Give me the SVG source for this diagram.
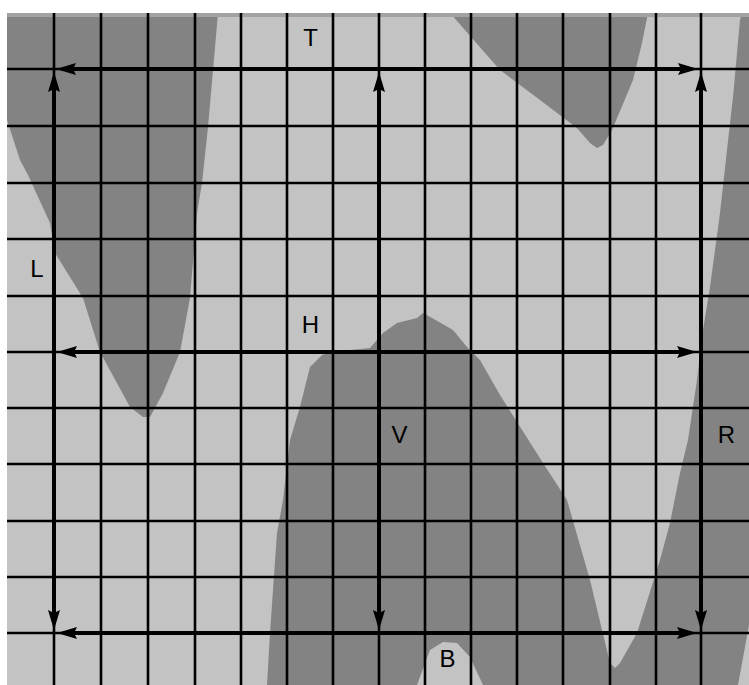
<svg xmlns="http://www.w3.org/2000/svg" width="749" height="685" viewBox="0 0 749 685">
<style>
.light{fill:#c3c3c3}
.dark{fill:#838383}
.grid line{stroke:#000;stroke-width:2.6}
.conn line{stroke:#000;stroke-width:4;marker-start:url(#ah);marker-end:url(#ah)}
.lbl{font-family:"Liberation Sans",Arial,sans-serif;font-size:24px;fill:#000;text-anchor:middle}
</style>
<defs>
<marker id="ah" viewBox="0 0 20 12" markerUnits="userSpaceOnUse" markerWidth="20" markerHeight="12" refX="8" refY="6" orient="auto-start-reverse">
<path d="M0,0 L20,6 L0,12 L3,6 Z" fill="#000"/>
</marker>
</defs>
<rect x="0" y="0" width="749" height="685" fill="#fff"/>
<g id="background">
<rect class="light" x="7" y="13" width="742" height="672"/>
<path class="dark" d="M7,13 L218,13 L208,127 L202,183 L197,213 L190,298 L180,352 L163,393 L150,417 L143,417 L130,407 L100,352 L83,298 L55,253 L50,223 L28,175 L20,160 L7,120 Z"/>
<path class="dark" d="M450,13 L648,13 L642,43 L633,80 L612,130 L603,145 L597,148 L590,143 L577,128 L540,100 L500,70 Z"/>
<path class="dark" d="M267,685 L270,633 L277,533 L283,500 L290,440 L300,407 L310,367 L322,355 L332,352 L370,348 L383,333 L397,323 L417,318 L423,313 L432,318 L453,330 L467,347 L480,360 L500,395 L543,463 L567,500 L590,580 L610,663 L615,668 L620,663 L637,633 L660,560 L670,523 L680,473 L688,440 L697,380 L703,330 L710,287 L720,213 L727,150 L733,97 L740,20 L742,13 L749,13 L749,685 Z"/>
<path class="light" d="M417,685 L430,650 L443,642 L457,643 L470,657 L483,685 Z"/>
<path class="light" d="M749,625 L749,685 L738,685 Z"/>
<rect x="7" y="13" width="742" height="4" fill="#a2a2a2"/>
</g>
<g class="grid" id="grid">
<line x1="54" y1="13" x2="54" y2="685"/>
<line x1="101" y1="13" x2="101" y2="685"/>
<line x1="148" y1="13" x2="148" y2="685"/>
<line x1="195" y1="13" x2="195" y2="685"/>
<line x1="241" y1="13" x2="241" y2="685"/>
<line x1="287" y1="13" x2="287" y2="685"/>
<line x1="333" y1="13" x2="333" y2="685"/>
<line x1="379" y1="13" x2="379" y2="685"/>
<line x1="425" y1="13" x2="425" y2="685"/>
<line x1="471" y1="13" x2="471" y2="685"/>
<line x1="517" y1="13" x2="517" y2="685"/>
<line x1="563" y1="13" x2="563" y2="685"/>
<line x1="610" y1="13" x2="610" y2="685"/>
<line x1="656" y1="13" x2="656" y2="685"/>
<line x1="701" y1="13" x2="701" y2="685"/>
<line x1="7" y1="69" x2="749" y2="69"/>
<line x1="7" y1="126" x2="749" y2="126"/>
<line x1="7" y1="183" x2="749" y2="183"/>
<line x1="7" y1="239" x2="749" y2="239"/>
<line x1="7" y1="296" x2="749" y2="296"/>
<line x1="7" y1="352" x2="749" y2="352"/>
<line x1="7" y1="408" x2="749" y2="408"/>
<line x1="7" y1="464" x2="749" y2="464"/>
<line x1="7" y1="521" x2="749" y2="521"/>
<line x1="7" y1="577" x2="749" y2="577"/>
<line x1="7" y1="633" x2="749" y2="633"/>
</g>
<g class="conn" id="connectors">
<line id="arrow-T" x1="68" y1="69" x2="686" y2="69"/>
<line id="arrow-H" x1="69" y1="352" x2="685" y2="352"/>
<line id="arrow-B" x1="69" y1="633" x2="685" y2="633"/>
<line id="arrow-L" x1="54" y1="84" x2="54" y2="618"/>
<line id="arrow-V" x1="379" y1="84" x2="379" y2="618"/>
<line id="arrow-R" x1="701" y1="84" x2="701" y2="618"/>
</g>
<g id="label-T"><text class="lbl" x="310.5" y="46">T</text></g>
<g id="label-L"><text class="lbl" x="37" y="277">L</text></g>
<g id="label-H"><text class="lbl" x="310.5" y="333">H</text></g>
<g id="label-V"><text class="lbl" x="399.5" y="443">V</text></g>
<g id="label-R"><text class="lbl" x="726.5" y="443">R</text></g>
<g id="label-B"><text class="lbl" x="447.5" y="667">B</text></g>
</svg>
